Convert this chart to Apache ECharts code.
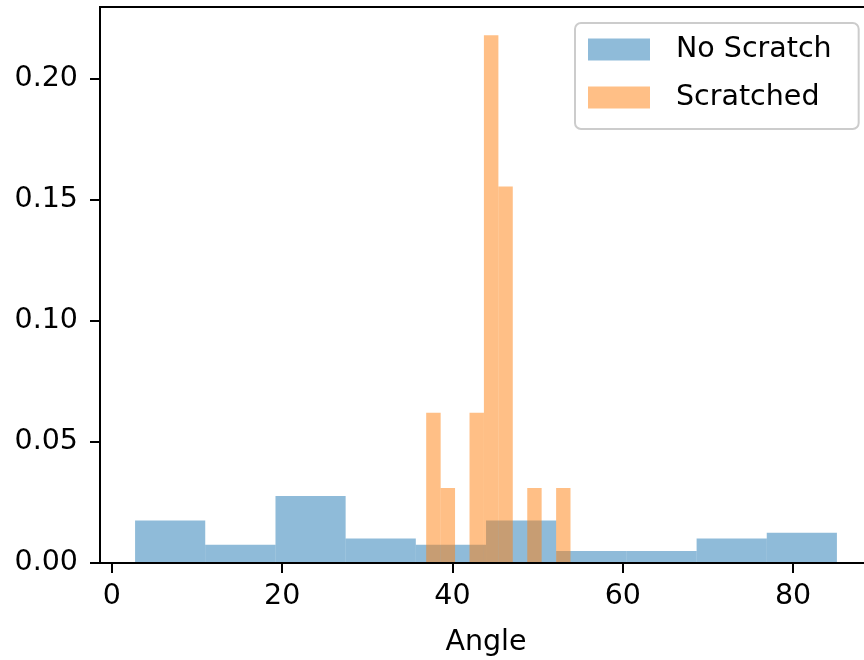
<!DOCTYPE html>
<html>
<head>
<meta charset="utf-8">
<script src="https://cdn.jsdelivr.net/npm/echarts@6/dist/echarts.min.js"></script>
<style>
  html, body { margin: 0; padding: 0; background: #fff; }
  #chart { width: 864px; height: 660px; }
</style>
</head>
<body>
<div id="chart"></div>
<script>
// histogram bin edges and densities
const noScratchEdges = [2.72, 10.96, 19.21, 27.45, 35.69, 43.94, 52.18, 60.42, 68.67, 76.91, 85.15];
const noScratchDensity = [0.0176, 0.0075, 0.0277, 0.0101, 0.0075, 0.0176, 0.0050, 0.0050, 0.0101, 0.0125];

const scratchedEdges = [36.91, 38.61, 40.30, 42.00, 43.69, 45.39, 47.08, 48.78, 50.47, 52.17, 53.86];
const scratchedDensity = [0.0621, 0.0310, 0, 0.0621, 0.2180, 0.1555, 0, 0.0310, 0, 0.0310];

const xTicks = [0, 20, 40, 60, 80];
const yTicks = [0, 0.05, 0.10, 0.15, 0.20];

const FONT = 'DejaVu Sans';

// turn edges + heights into [x0, x1, h] rows for the custom series
function toBins(edges, heights) {
  const out = [];
  heights.forEach((h, i) => { if (h > 0) out.push([edges[i], edges[i + 1], h]); });
  return out;
}

function binRenderer(color) {
  return function (params, api) {
    const p0 = api.coord([api.value(0), api.value(2)]);
    const p1 = api.coord([api.value(1), 0]);
    return {
      type: 'rect',
      shape: { x: p0[0], y: p0[1], width: p1[0] - p0[0], height: p1[1] - p0[1] },
      style: { fill: color, opacity: 0.5 }
    };
  };
}

const chart = echarts.init(document.getElementById('chart'), null, { renderer: 'canvas' });
chart.setOption({
  animation: false,
  textStyle: { fontFamily: FONT },
  grid: {
    left: 100, top: 7, width: 772, height: 556,
    outerBoundsMode: 'none', containLabel: false,
    show: true, borderColor: '#000', borderWidth: 2, backgroundColor: 'transparent'
  },
  legend: {
    left: 575, top: 23,
    orient: 'vertical',
    icon: 'rect',
    itemWidth: 62, itemHeight: 22, itemGap: 19,
    padding: [12, 27, 17, 13],
    backgroundColor: 'rgba(255,255,255,0.8)',
    borderColor: '#cccccc', borderWidth: 2, borderRadius: 6,
    textStyle: { fontFamily: FONT, fontSize: 28.5, color: '#000', lineHeight: 22, padding: [0, 0, 0, 21] },
    data: [
      { name: 'No Scratch', itemStyle: { color: 'rgba(31,119,180,0.5)' } },
      { name: 'Scratched', itemStyle: { color: 'rgba(255,127,14,0.5)' } }
    ]
  },
  xAxis: {
    type: 'value', min: -1.40, max: 89.27, z: 10,
    splitLine: { show: false },
    name: 'Angle', nameLocation: 'middle', nameGap: 65,
    nameTextStyle: { fontFamily: FONT, fontSize: 28.5, color: '#000' },
    axisLine: { show: true, onZero: false, lineStyle: { color: '#000', width: 2 } },
    axisTick: { show: true, length: 10, lineStyle: { color: '#000', width: 2 }, customValues: xTicks },
    axisLabel: { fontFamily: FONT, fontSize: 28.5, color: '#000', margin: 19, customValues: xTicks }
  },
  yAxis: {
    type: 'value', min: 0, max: 0.2297, z: 10,
    splitLine: { show: false },
    axisLine: { show: true, onZero: false, lineStyle: { color: '#000', width: 2 } },
    axisTick: { show: true, length: 10, lineStyle: { color: '#000', width: 2 }, customValues: yTicks },
    axisLabel: {
      fontFamily: FONT, fontSize: 28.5, color: '#000', margin: 22, customValues: yTicks,
      formatter: (v) => v.toFixed(2)
    }
  },
  series: [
    {
      name: 'No Scratch', type: 'custom',
      renderItem: binRenderer('#1f77b4'),
      itemStyle: { color: 'rgba(31,119,180,0.5)' },
      encode: { x: [0, 1], y: 2 },
      data: toBins(noScratchEdges, noScratchDensity)
    },
    {
      name: 'Scratched', type: 'custom',
      renderItem: binRenderer('#ff7f0e'),
      itemStyle: { color: 'rgba(255,127,14,0.5)' },
      encode: { x: [0, 1], y: 2 },
      data: toBins(scratchedEdges, scratchedDensity)
    }
  ]
});
</script>
</body>
</html>
